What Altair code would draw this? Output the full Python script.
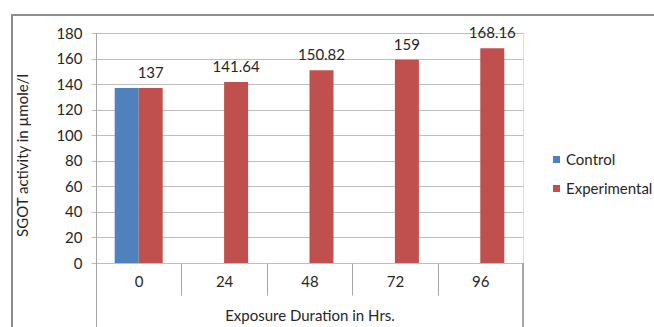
import altair as alt
import pandas as pd

categories = ["0", "24", "48", "72", "96"]
control = [137, None, None, None, None]
experimental = [137, 141.64, 150.82, 159, 168.16]
series = ["Control", "Experimental"]
y_ticks = [0, 20, 40, 60, 80, 100, 120, 140, 160, 180]

rows = []
for c, cv, ev in zip(categories, control, experimental):
    if cv is not None:
        rows.append({"cat": c, "series": "Control", "value": cv})
    if ev is not None:
        rows.append({"cat": c, "series": "Experimental", "value": ev})
df = pd.DataFrame(rows)
df["label"] = df["value"].map(lambda v: f"{v:g}")

FONT = "Lato"
FS = 15
W, H = 427, 230

x = alt.X("cat:N", sort=categories, scale=alt.Scale(domain=categories, paddingInner=0, paddingOuter=0),
          axis=alt.Axis(title="Exposure Duration in Hrs.", labelAngle=0, tickBand="extent", tickSize=32,
                        tickColor="#A6A6A6", domain=False, labelPadding=-21, labelFontSize=FS,
                        labelColor="#262626", titleFontSize=FS, titleFontWeight="normal",
                        titleColor="#262626", titleY=52, titleBaseline="middle", labelFont=FONT,
                        titleFont=FONT))
xoff = alt.XOffset("series:N", scale=alt.Scale(domain=series, paddingInner=0, paddingOuter=0.78))

color = alt.Color("series:N", scale=alt.Scale(domain=series, range=["#4F81BD", "#C0504D"]),
                  legend=alt.Legend(title=None, orient="none", legendX=453, legendY=119,
                                    symbolType="square", symbolSize=49, symbolStrokeWidth=0,
                                    labelFontSize=FS, labelFont=FONT, labelColor="#262626",
                                    rowPadding=13, padding=0, labelOffset=2))

y_axis = alt.Axis(title="SGOT activity in µmole/l", values=y_ticks, grid=True, gridColor="#BFBFBF",
                  domain=False, tickSize=5, tickColor="#BFBFBF", labelPadding=9, labelFontSize=FS,
                  labelOverlap=False, labelFont=FONT, labelColor="#262626", titleFont=FONT,
                  titleFontSize=FS, titleFontWeight="normal", titleColor="#262626", titleX=-74,
                  titleY=122, titleAlign="center", titleBaseline="middle", titleAngle=-90)
y = alt.Y("value:Q", scale=alt.Scale(domain=[0, 180], nice=False), axis=y_axis)

bars = alt.Chart(df).mark_bar(size=24).encode(x=x, xOffset=xoff, y=y, color=color)

labels = alt.Chart(df[df["series"] == "Experimental"]).mark_text(
    baseline="bottom", dy=-7, fontSize=FS, font=FONT, color="#262626"
).encode(x=x, xOffset=xoff, y=y, text="label:N")

frame = alt.Chart(df).mark_rect(fill=None, stroke="#8C8C8C", strokeWidth=1.2).encode(
    x=alt.value(-84), x2=alt.value(600), y=alt.value(-18), y2=alt.value(400))
left_line = alt.Chart(df).mark_rule(color="#A6A6A6").encode(
    x=alt.value(0.5), y=alt.value(0), y2=alt.value(300))
right_line = alt.Chart(df).mark_rule(color="#A6A6A6").encode(
    x=alt.value(W), y=alt.value(H), y2=alt.value(300))

chart = alt.layer(frame, bars, labels, left_line, right_line).properties(
    width=W, height=H,
    autosize=alt.AutoSizeParams(type="none"),
    padding={"left": 96, "top": 33, "right": 654 - 96 - W, "bottom": 327 - 33 - H},
).configure_view(stroke=None).configure(background="white")

chart.save("out.html", embed_options={"renderer": "svg", "actions": False})
